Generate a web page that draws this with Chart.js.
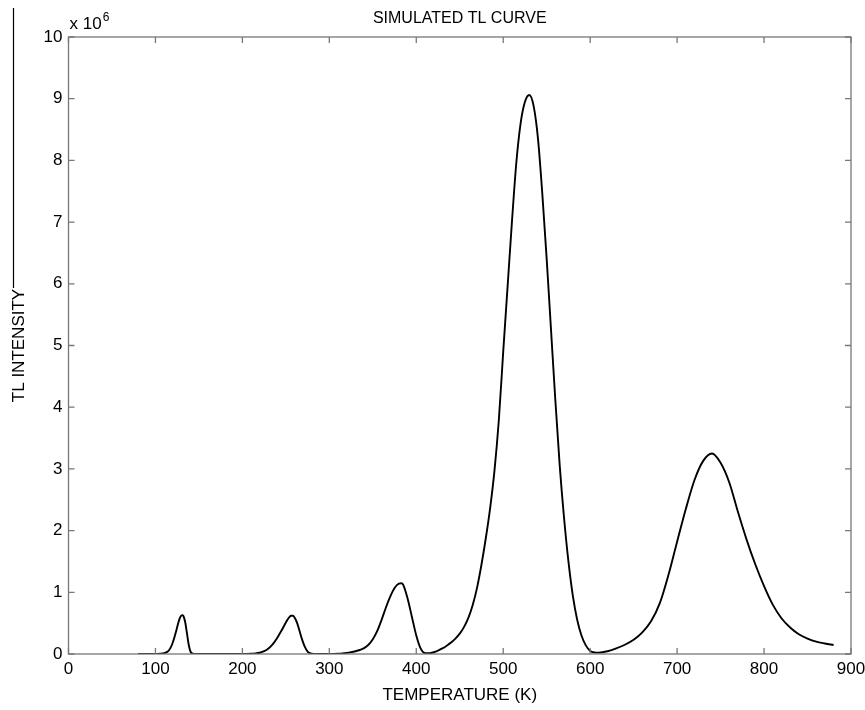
<!DOCTYPE html>
<html>
<head>
<meta charset="utf-8">
<title>Simulated TL curve</title>
<script src="https://cdn.jsdelivr.net/npm/chart.js@4.4.1/dist/chart.umd.min.js"></script>
<style>
  html, body { margin: 0; padding: 0; background: #fff; }
  #wrap { width: 865px; height: 710px; }
</style>
</head>
<body>
<div id="wrap"><canvas id="tlChart" width="865" height="710"></canvas></div>
<script>
// --- Data (temperature in K, intensity in units of 10^6) ---
const temperatures = [
  80, 90, 100, 105, 110, 113, 116, 119, 122, 124, 126, 128, 130, 131, 132, 134, 136, 138, 140, 142, 145, 150,
  200, 210, 215, 220, 225, 230, 235, 240, 245, 250, 253, 256, 258, 260, 263, 266, 269, 272, 275, 278, 282, 290,
  300, 305, 310, 315, 320, 325, 330, 335, 340, 345, 350, 355, 360, 365, 370, 375, 380, 383, 385, 390, 395, 400, 405, 410,
  415, 420, 425, 430, 435, 440, 445, 450, 455, 460, 465, 470, 475, 480, 485, 490, 495, 500, 505, 510, 515, 520, 525,
  530, 535, 540, 545, 550, 555, 560, 565, 570, 575, 580, 585, 590, 595, 600, 605, 610,
  620, 630, 640, 650, 660, 670, 680, 690, 700, 710, 720, 730, 740, 750, 760, 770, 780, 790, 800,
  810, 820, 830, 840, 850, 860, 870, 880
];
const intensity = [
  0, 0, 0, 0.003, 0.012, 0.03, 0.07, 0.15, 0.28, 0.38, 0.49, 0.58, 0.625, 0.63, 0.62, 0.53, 0.36, 0.17, 0.05, 0.01, 0.002, 0,
  0, 0.003, 0.008, 0.02, 0.045, 0.09, 0.16, 0.26, 0.38, 0.51, 0.58, 0.62, 0.62, 0.59, 0.5, 0.36, 0.22, 0.11, 0.04, 0.012, 0.002, 0,
  0, 0.002, 0.005, 0.01, 0.018, 0.03, 0.045, 0.065, 0.095, 0.15, 0.24, 0.37, 0.55, 0.75, 0.93, 1.07, 1.14, 1.146, 1.12, 0.9, 0.6, 0.3, 0.09, 0.015,
  0.012, 0.028, 0.055, 0.09, 0.135, 0.185, 0.25, 0.33, 0.44, 0.59, 0.8, 1.08, 1.45, 1.88, 2.37, 2.98, 3.8, 4.9, 5.95, 7.0, 7.95, 8.6, 8.95,
  9.06, 8.88, 8.35, 7.45, 6.4, 5.25, 4.1, 3.05, 2.2, 1.5, 0.95, 0.56, 0.3, 0.14, 0.05, 0.025, 0.022,
  0.045, 0.09, 0.15, 0.23, 0.35, 0.53, 0.82, 1.28, 1.82, 2.35, 2.82, 3.13, 3.25, 3.1, 2.78, 2.3, 1.85, 1.45, 1.1,
  0.8, 0.58, 0.43, 0.32, 0.25, 0.2, 0.17, 0.145
];

const xRange = [0, 900];
const yRange = [0, 10];
const chartTitle = 'SIMULATED TL CURVE';
const xLabel = 'TEMPERATURE (K)';
const yLabel = 'TL INTENSITY';
const yExponent = '6';

const FONT = '"Liberation Sans", Arial, Helvetica, sans-serif';
const AXIS_GRAY = '#777';

Chart.defaults.font.family = FONT;
Chart.defaults.font.size = 17;
Chart.defaults.color = '#000';

const points = temperatures.map((t, i) => ({ x: t, y: intensity[i] }));

// MATLAB style box, inward ticks, title and the exponent note
const matlabFrame = {
  id: 'matlabFrame',
  afterDraw(chart) {
    const { ctx, chartArea: a, scales } = chart;
    const tick = 6;
    ctx.save();
    ctx.strokeStyle = AXIS_GRAY;
    ctx.lineWidth = 1.3;
    ctx.strokeRect(a.left, a.top, a.right - a.left, a.bottom - a.top);

    ctx.beginPath();
    scales.x.ticks.forEach(t => {
      const px = scales.x.getPixelForValue(t.value);
      ctx.moveTo(px, a.bottom); ctx.lineTo(px, a.bottom - tick);
      ctx.moveTo(px, a.top); ctx.lineTo(px, a.top + tick);
    });
    scales.y.ticks.forEach(t => {
      const py = scales.y.getPixelForValue(t.value);
      ctx.moveTo(a.left, py); ctx.lineTo(a.left + tick, py);
      ctx.moveTo(a.right, py); ctx.lineTo(a.right - tick, py);
    });
    ctx.stroke();

    // stray vertical rule on the far left of the figure
    ctx.strokeStyle = '#000';
    ctx.lineWidth = 1.2;
    ctx.beginPath();
    ctx.moveTo(13.5, 8);
    ctx.lineTo(13.5, 288);
    ctx.stroke();

    ctx.fillStyle = '#000';
    ctx.textBaseline = 'alphabetic';
    ctx.font = '16px ' + FONT;
    ctx.textAlign = 'center';
    ctx.fillText(chartTitle, (a.left + a.right) / 2, 23);

    ctx.textAlign = 'left';
    ctx.font = '17px ' + FONT;
    ctx.fillText('x 10', a.left + 1, 29);
    const w = ctx.measureText('x 10').width;
    ctx.font = '12px ' + FONT;
    ctx.fillText(yExponent, a.left + 2 + w, 21);
    ctx.restore();
  }
};

const ctx = document.getElementById('tlChart').getContext('2d');
new Chart(ctx, {
  type: 'line',
  data: {
    datasets: [{
      label: 'TL',
      data: points,
      borderColor: '#000',
      borderWidth: 1.9,
      pointRadius: 0,
      fill: false,
      cubicInterpolationMode: 'monotone'
    }]
  },
  options: {
    responsive: false,
    animation: false,
    devicePixelRatio: 1,
    layout: { padding: { top: 37, right: 14, bottom: 0, left: 0 } },
    plugins: { legend: { display: false }, tooltip: { enabled: false } },
    scales: {
      x: {
        type: 'linear',
        min: xRange[0],
        max: xRange[1],
        afterFit: s => { s.height = 56; s.paddingLeft = 0; s.paddingRight = 0; },
        ticks: { stepSize: 100, padding: 5, maxRotation: 0, autoSkip: false },
        grid: { display: false, drawTicks: false },
        border: { display: false },
        title: { display: true, text: xLabel, padding: { top: 0, bottom: 4 } }
      },
      y: {
        type: 'linear',
        min: yRange[0],
        max: yRange[1],
        afterFit: s => { s.width = 68.5; s.paddingTop = 0; s.paddingBottom = 0; },
        ticks: { stepSize: 1, padding: 6, autoSkip: false },
        grid: { display: false, drawTicks: false },
        border: { display: false },
        title: { display: true, text: yLabel, padding: { top: 9, bottom: 0 } }
      }
    }
  },
  plugins: [matlabFrame]
});
</script>
</body>
</html>
